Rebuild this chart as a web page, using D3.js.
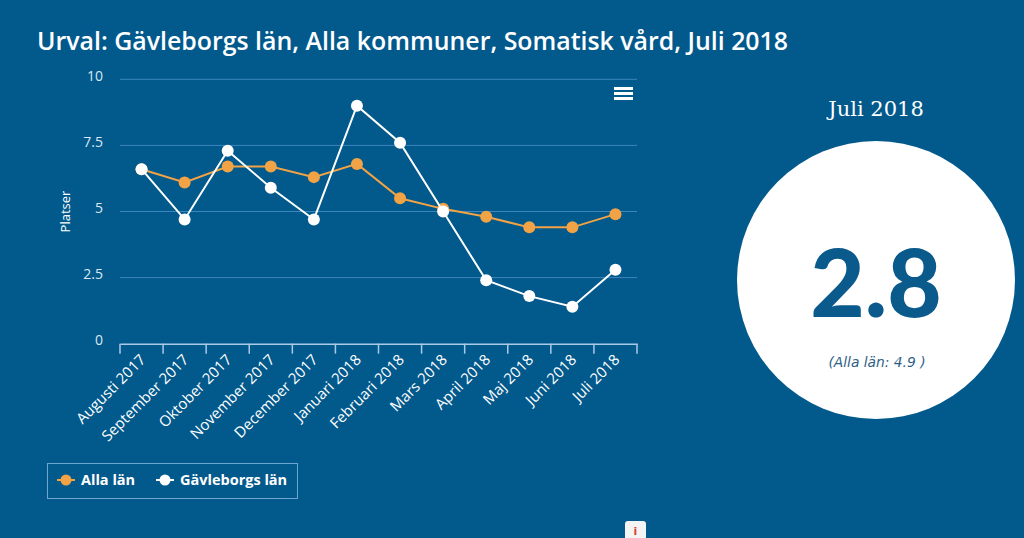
<!DOCTYPE html>
<html><head><meta charset="utf-8">
<script src="https://cdn.jsdelivr.net/npm/d3@7"></script>
<style>
html,body{margin:0;padding:0;background:#02598c;}
svg{display:block;}
</style></head>
<body>
<svg id="c" width="1024" height="538"></svg>
<script>
const categories = ["Augusti 2017","September 2017","Oktober 2017","November 2017","December 2017","Januari 2018","Februari 2018","Mars 2018","April 2018","Maj 2018","Juni 2018","Juli 2018"];
const allaLan = [6.6,6.1,6.7,6.7,6.3,6.8,5.5,5.1,4.8,4.4,4.4,4.9];
const gavleborg = [6.6,4.7,7.3,5.9,4.7,9.0,7.6,5.0,2.4,1.8,1.4,2.8];
const yTicks = [0,2.5,5,7.5,10];
const yTickLabels = ["0","2.5","5","7.5","10"];
const seriesNames = ["Alla län","Gävleborgs län"];
const titleText = "Urval: Gävleborgs län, Alla kommuner, Somatisk vård, Juli 2018";
const panelPeriod = "Juli 2018";
const panelValue = "2.8";
const panelCompare = "(Alla län: 4.9 )";

(function(){
const BG = "#02598c", ORANGE = "#f2a345", WHITE = "#ffffff";
const svg = d3.select("#c");
svg.append("rect").attr("width",1024).attr("height",538).attr("fill",BG);

svg.append("text").attr("x",37).attr("y",50).attr("fill",WHITE)
  .attr("font-family","'Open Sans'").attr("font-weight",600).attr("font-size",24.9)
  .text(titleText);

const pLeft=120, pRight=637, pTop=79.3, pBottom=343.7;
const x = d3.scaleBand().domain(categories).range([pLeft,pRight]);
const y = d3.scaleLinear().domain([0,10]).range([pBottom,pTop]);

svg.append("g").selectAll("line").data(yTicks.filter(d=>d>0)).join("line")
  .attr("x1",pLeft).attr("x2",pRight).attr("y1",d=>y(d)).attr("y2",d=>y(d))
  .attr("stroke","#3d86bb").attr("stroke-width",1);

const yAxis = svg.append("g").attr("transform",`translate(${pLeft},0)`)
  .call(d3.axisLeft(y).tickValues(yTicks).tickFormat((d,i)=>yTickLabels[i]).tickSize(0).tickPadding(17));
yAxis.select(".domain").remove();
yAxis.selectAll("text").attr("fill","#dce8f2").attr("font-family","'Open Sans'").attr("font-size",14).attr("dy","0.05em");

svg.append("text").attr("transform",`translate(70,${y(5)}) rotate(-90)`).attr("text-anchor","middle")
  .attr("fill",WHITE).attr("font-family","'Open Sans'").attr("font-size",13).text("Platser");

const xAxis = svg.append("g").attr("transform",`translate(0,${pBottom})`)
  .call(d3.axisBottom(x).tickSize(0).tickPadding(0));
xAxis.select(".domain").attr("stroke","#a9cbe8").attr("stroke-width",1.5);
xAxis.selectAll("text").attr("fill",WHITE).attr("font-family","'Open Sans'").attr("font-size",15)
  .attr("text-anchor","end").attr("x",0).attr("y",0).attr("dy",0)
  .attr("transform","translate(5,17) rotate(-45)");
const bounds = categories.map(c=>x(c)).concat([pRight]);
svg.append("g").selectAll("line").data(bounds).join("line")
  .attr("x1",d=>d).attr("x2",d=>d).attr("y1",pBottom).attr("y2",pBottom+10)
  .attr("stroke","#a9cbe8").attr("stroke-width",1.5);

const cx = (d,i)=>x(categories[i])+x.bandwidth()/2;
const line = d3.line().x(cx).y(d=>y(d));

function drawSeries(data,color){
  svg.append("path").datum(data).attr("d",line).attr("fill","none").attr("stroke",color).attr("stroke-width",2);
  svg.append("g").selectAll("circle").data(data).join("circle")
    .attr("cx",cx).attr("cy",d=>y(d)).attr("r",6).attr("fill",color);
}
drawSeries(allaLan,ORANGE);
drawSeries(gavleborg,WHITE);

const hb = svg.append("g").attr("transform","translate(614,87)");
[0,5,10].forEach(o=>hb.append("rect").attr("x",0).attr("y",o).attr("width",19).attr("height",3).attr("fill",WHITE));

svg.append("rect").attr("x",47.5).attr("y",463.5).attr("width",250).attr("height",35)
  .attr("fill","none").attr("stroke","#6ea5d3").attr("stroke-width",1);
const legendItems = [{name:seriesNames[0],color:ORANGE,x:57},{name:seriesNames[1],color:WHITE,x:156}];
legendItems.forEach(it=>{
  const g = svg.append("g").attr("transform",`translate(${it.x},480)`);
  g.append("line").attr("x1",0).attr("x2",18).attr("stroke",it.color).attr("stroke-width",2);
  g.append("circle").attr("cx",9).attr("r",5.5).attr("fill",it.color);
  g.append("text").attr("x",24).attr("y",5).attr("fill",WHITE).attr("font-family","'Open Sans'")
    .attr("font-weight",700).attr("font-size",14.5).text(it.name);
});

svg.append("text").attr("x",876).attr("y",116).attr("text-anchor","middle").attr("fill",WHITE)
  .attr("font-family","'DejaVu Serif'").attr("font-size",21).text(panelPeriod);
svg.append("circle").attr("cx",876).attr("cy",280).attr("r",139).attr("fill",WHITE);
svg.append("text").attr("x",876).attr("y",317).attr("text-anchor","middle").attr("fill","#0a5a8c")
  .attr("font-family","Lato").attr("font-weight",900).attr("font-size",94).text(panelValue);
svg.append("text").attr("x",877).attr("y",367).attr("text-anchor","middle").attr("fill","#2f5f86")
  .attr("font-family","'DejaVu Sans'").attr("font-style","italic").attr("font-size",13.8).text(panelCompare);

svg.append("rect").attr("x",625).attr("y",521).attr("width",21).attr("height",20).attr("rx",3).attr("fill","#f4f4f4");
svg.append("text").attr("x",635.5).attr("y",535).attr("text-anchor","middle").attr("fill","#d9442c")
  .attr("font-family","'DejaVu Sans'").attr("font-weight",700).attr("font-size",11).text("i");
})();
</script>
</body></html>
